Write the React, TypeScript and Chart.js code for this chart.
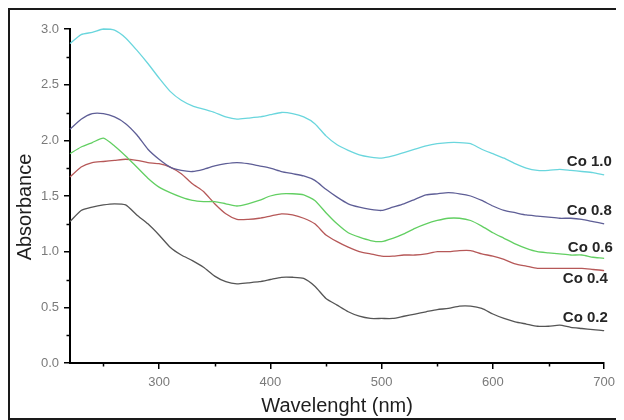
import { useEffect, useRef } from "react";
import { Chart, registerables } from "chart.js";

Chart.register(...registerables);

// ---- data ----
const wavelengths = [
  220, 230, 240, 250, 260, 270, 280, 290, 300, 310, 320, 330, 340, 350, 360, 370, 380, 390, 400, 410,
  420, 430, 440, 450, 460, 470, 480, 490, 500, 510, 520, 530, 540, 550, 560, 570, 580, 590, 600, 610,
  620, 630, 640, 650, 660, 670, 680, 690, 700, 706,
];

const co10 = [
  2.87, 2.95, 2.97, 3.0, 2.99, 2.92, 2.81, 2.69, 2.56, 2.44, 2.36, 2.31, 2.28, 2.25, 2.21, 2.19, 2.2, 2.21, 2.23, 2.25,
  2.24, 2.21, 2.15, 2.04, 1.96, 1.91, 1.87, 1.85, 1.84, 1.86, 1.89, 1.92, 1.95, 1.97, 1.98, 1.98, 1.97, 1.92, 1.88, 1.84,
  1.79, 1.75, 1.73, 1.73, 1.74, 1.73, 1.72, 1.71, 1.69, 1.68,
];

const co08 = [
  2.1, 2.19, 2.24, 2.24, 2.21, 2.15, 2.05, 1.92, 1.83, 1.76, 1.73, 1.72, 1.74, 1.77, 1.79, 1.8, 1.79, 1.77, 1.75, 1.72,
  1.7, 1.68, 1.64, 1.56, 1.49, 1.43, 1.4, 1.38, 1.37, 1.4, 1.43, 1.47, 1.51, 1.52, 1.53, 1.52, 1.5, 1.46, 1.41, 1.37,
  1.35, 1.33, 1.32, 1.31, 1.3, 1.3, 1.29, 1.27, 1.25, 1.24,
];

const co06 = [
  1.88, 1.94, 1.98, 2.02, 1.95, 1.86, 1.76, 1.66, 1.58, 1.53, 1.49, 1.46, 1.45, 1.45, 1.43, 1.41, 1.43, 1.46, 1.5, 1.52,
  1.52, 1.51, 1.46, 1.35, 1.25, 1.17, 1.13, 1.1, 1.09, 1.12, 1.16, 1.21, 1.25, 1.28, 1.3, 1.3, 1.28, 1.23, 1.17, 1.12,
  1.07, 1.03, 1.0, 0.99, 0.98, 0.97, 0.97, 0.95, 0.94, 0.93,
];

const co04 = [
  1.67, 1.76, 1.8, 1.81, 1.82, 1.83, 1.82, 1.8, 1.79, 1.76, 1.7, 1.61, 1.54, 1.43, 1.34, 1.29, 1.29, 1.3, 1.32, 1.34,
  1.33, 1.3, 1.25, 1.15, 1.09, 1.04, 1.0, 0.98, 0.96, 0.96, 0.97, 0.97, 0.98, 1.0, 1.0, 1.01, 1.01, 0.98, 0.96, 0.93,
  0.89, 0.87, 0.85, 0.85, 0.85, 0.85, 0.85, 0.84, 0.83, 0.83,
];

const co02 = [
  1.27, 1.37, 1.4, 1.42, 1.43, 1.42, 1.33, 1.25, 1.15, 1.04, 0.97, 0.92, 0.86, 0.78, 0.73, 0.71, 0.72, 0.73, 0.75, 0.77,
  0.77, 0.76, 0.69, 0.58, 0.52, 0.46, 0.42, 0.4, 0.4, 0.4, 0.42, 0.44, 0.46, 0.48, 0.49, 0.51, 0.51, 0.49, 0.44, 0.4,
  0.37, 0.35, 0.33, 0.33, 0.34, 0.32, 0.31, 0.3, 0.29, 0.28,
];

const seriesNames = ["Co 1.0", "Co 0.8", "Co 0.6", "Co 0.4", "Co 0.2"];
const seriesValues = [co10, co08, co06, co04, co02];

const xTicks = [300, 400, 500, 600, 700];
const xMinorTicks = [250, 350, 450, 550, 650];
const yTicks = [0, 0.5, 1.0, 1.5, 2.0, 2.5, 3.0];
const yMinorTicks = [0.25, 0.75, 1.25, 1.75, 2.25, 2.75];

const xTitle = "Wavelenght (nm)";
const yTitle = "Absorbance";

// ---- styles ----
const FONT = "'Liberation Sans', Arial, Helvetica, sans-serif";
const seriesColors = ["#6ad6dd", "#5e5e96", "#62cf62", "#b65858", "#555555"];
const labelOffsets = [
  [-44, -14],
  [-44, -14],
  [-43, -12],
  [-48, 8],
  [-48, -14],
];

const decorPlugin = {
  id: "decor",
  afterDatasetsDraw(chart: any) {
    const { ctx, chartArea, scales } = chart;
    const xs = scales.x;
    const ys = scales.y;
    ctx.save();
    // minor ticks
    ctx.strokeStyle = "#000";
    ctx.lineWidth = 1.5;
    ctx.beginPath();
    yMinorTicks.forEach((v) => {
      const py = Math.round(ys.getPixelForValue(v)) + 0.5;
      ctx.moveTo(chartArea.left - 3.5, py);
      ctx.lineTo(chartArea.left, py);
    });
    xMinorTicks.forEach((v) => {
      const px = Math.round(xs.getPixelForValue(v)) + 0.5;
      ctx.moveTo(px, chartArea.bottom);
      ctx.lineTo(px, chartArea.bottom + 3.5);
    });
    ctx.stroke();

    // series labels
    ctx.font = `bold 15px ${FONT}`;
    ctx.fillStyle = "#262626";
    ctx.textAlign = "left";
    ctx.textBaseline = "middle";
    chart.data.datasets.forEach((ds: any, i: number) => {
      const meta = chart.getDatasetMeta(i);
      const last = meta.data[meta.data.length - 1];
      if (!last) return;
      const [dx, dy] = labelOffsets[i];
      ctx.fillText(ds.label, last.x + dx, last.y + dy);
    });

    // y axis title
    ctx.font = `20px ${FONT}`;
    ctx.fillStyle = "#1e1e1e";
    ctx.textAlign = "center";
    ctx.textBaseline = "middle";
    ctx.translate(15, (chartArea.top + chartArea.bottom) / 2 + 11);
    ctx.rotate(-Math.PI / 2);
    ctx.fillText(yTitle, 0, 0);
    ctx.restore();
  },
};

export default function App() {
  const canvasRef = useRef<HTMLCanvasElement | null>(null);

  useEffect(() => {
    const canvas = canvasRef.current;
    if (!canvas) return;
    const chart = new Chart(canvas, {
      type: "line",
      data: {
        datasets: seriesNames.map((name, i) => ({
          label: name,
          data: wavelengths.map((w, j) => ({ x: w, y: seriesValues[i][j] })),
          borderColor: seriesColors[i],
          backgroundColor: seriesColors[i],
          borderWidth: 1.3,
          pointRadius: 0,
          tension: 0.2,
          fill: false,
          clip: false,
        })),
      },
      options: {
        animation: false,
        responsive: false,
        maintainAspectRatio: false,
        layout: { padding: { top: 19, right: 10, left: 0, bottom: 0 } },
        plugins: {
          legend: { display: false },
          tooltip: { enabled: false },
          title: { display: false },
        },
        scales: {
          x: {
            type: "linear",
            min: 220,
            max: 700,
            afterBuildTicks: (s: any) => {
              s.ticks = xTicks.map((v) => ({ value: v }));
            },
            afterFit: (s: any) => {
              s.height = 55;
            },
            grid: {
              display: true,
              drawOnChartArea: false,
              drawTicks: true,
              tickLength: 6,
              color: "#000",
              lineWidth: 1.5,
            },
            border: { display: true, color: "#000", width: 2 },
            ticks: {
              color: "#7a7a7a",
              font: { family: FONT, size: 13 },
              padding: 6,
              maxRotation: 0,
              autoSkip: false,
            },
            title: {
              display: true,
              text: xTitle,
              color: "#1e1e1e",
              font: { family: FONT, size: 20 },
              padding: { top: 0, bottom: 0 },
            },
          },
          y: {
            type: "linear",
            min: 0,
            max: 3,
            afterBuildTicks: (s: any) => {
              s.ticks = yTicks.map((v) => ({ value: v }));
            },
            afterFit: (s: any) => {
              s.width = 60;
            },
            grid: {
              display: true,
              drawOnChartArea: false,
              drawTicks: true,
              tickLength: 6,
              color: "#000",
              lineWidth: 1.5,
            },
            border: { display: true, color: "#000", width: 2 },
            ticks: {
              color: "#7a7a7a",
              font: { family: FONT, size: 13 },
              padding: 5,
              autoSkip: false,
              callback: (v: any) => Number(v).toFixed(1),
            },
            title: { display: false },
          },
        },
      },
      plugins: [decorPlugin],
    } as any);
    return () => chart.destroy();
  }, []);

  return (
    <div
      style={{
        width: 611,
        height: 408,
        borderLeft: "2px solid #1a1a1a",
        borderTop: "2px solid #1a1a1a",
        borderBottom: "2px solid #1a1a1a",
        borderRight: "1px solid #cfcfcf",
        background: "#fff",
      }}
    >
      <canvas ref={canvasRef} width={611} height={408} style={{ display: "block" }} />
    </div>
  );
}
